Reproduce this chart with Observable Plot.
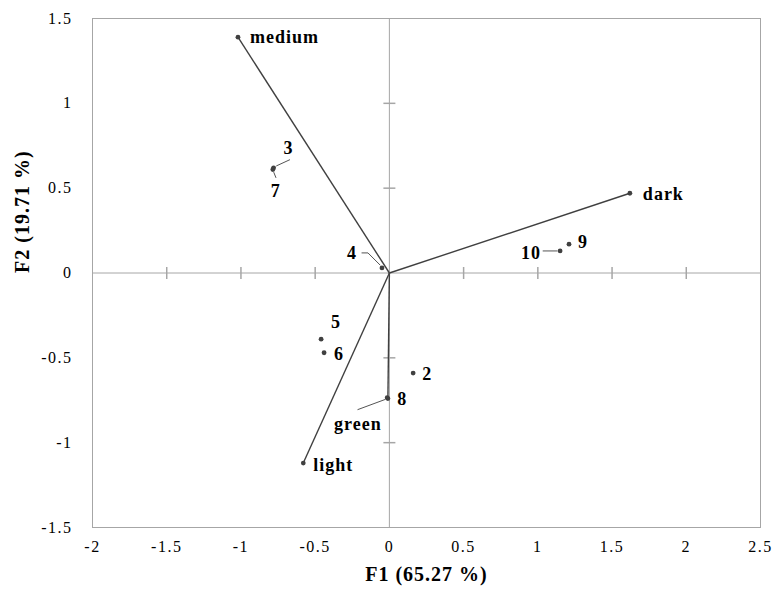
<!DOCTYPE html>
<html><head><meta charset="utf-8">
<script src="https://cdn.jsdelivr.net/npm/d3@7"></script>
<script src="https://cdn.jsdelivr.net/npm/@observablehq/plot@0.6"></script>
<style>
body{margin:0;background:#fff}
svg, svg text{font-family:"Liberation Serif","Times New Roman",Times,"DejaVu Serif",serif !important}
svg [aria-label^="x-axis"] text, svg [aria-label^="y-axis"] text{letter-spacing:1.5px}
svg [aria-label="text"] text{letter-spacing:1px}
</style>
</head><body><div id="chart"></div>
<script>
// ---- data ----
const variables = ["medium", "dark", "light", "green"];
const varF1 = [-1.02, 1.62, -0.58, -0.01];
const varF2 = [1.39, 0.47, -1.12, -0.74];
const observations = ["2", "3", "4", "5", "6", "7", "8", "9", "10"];
const obsF1 = [0.16, -0.78, -0.05, -0.46, -0.44, -0.785, -0.015, 1.21, 1.15];
const obsF2 = [-0.59, 0.62, 0.03, -0.39, -0.47, 0.61, -0.735, 0.17, 0.13];
const xTicks = [-2, -1.5, -1, -0.5, 0, 0.5, 1, 1.5, 2, 2.5];
const yTicks = [-1.5, -1, -0.5, 0, 0.5, 1, 1.5];
const xTitle = "F1 (65.27 %)";
const yTitle = "F2 (19.71 %)";

// ---- layout (pixels) ----
const W = 775, H = 595;
const M = {top: 18, right: 15, bottom: 68, left: 92};
const xDomain = [-2, 2.5], yDomain = [-1.5, 1.5];
const kx = (W - M.left - M.right) / (xDomain[1] - xDomain[0]);
const ky = (H - M.top - M.bottom) / (yDomain[1] - yDomain[0]);
const labelPos = {
  medium: {dx: 12, dy: 0, a: "start"},
  dark: {dx: 13, dy: 1, a: "start"},
  light: {dx: 10, dy: 2, a: "start"},
  green: {dx: -30, dy: 26, a: "middle"},
  "2": {dx: 9, dy: 1, a: "start"},
  "3": {dx: 15, dy: -20, a: "middle"},
  "4": {dx: -30, dy: -15, a: "middle"},
  "5": {dx: 10, dy: -17, a: "start"},
  "6": {dx: 10, dy: 1, a: "start"},
  "7": {dx: 3, dy: 22, a: "middle"},
  "8": {dx: 10, dy: 2, a: "start"},
  "9": {dx: 9, dy: -2, a: "start"},
  "10": {dx: -19, dy: 2, a: "end"}
};
// leader polylines, pixel offsets from the point
const leaders = {
  "3": [[3, -2], [16, -8]],
  "7": [[1, 3], [3, 8]],
  "4": [[-20, -15], [-14, -15], [-2, -3]],
  "10": [[-17, 0], [-3, 0]],
  green: [[-30, 11], [-3, 1]]
};

const vars = variables.map((n, i) => ({name: n, x: varF1[i], y: varF2[i]}));
const obs = observations.map((n, i) => ({name: n, x: obsF1[i], y: obsF2[i]}));
const all = [...vars, ...obs];
const leaderPts = [];
for (const p of all) {
  const L = leaders[p.name];
  if (!L) continue;
  for (const [ox, oy] of L) leaderPts.push({id: p.name, x: p.x + ox / kx, y: p.y - oy / ky});
}

const vTick = {draw(ctx) { ctx.moveTo(0, -6); ctx.lineTo(0, 6); }};
const hTick = {draw(ctx) { ctx.moveTo(-6, 0); ctx.lineTo(6, 0); }};
const fmt = d => String(d);
const gray = "#a6a6a6", dark = "#404040";
const serif = "'Liberation Serif', 'Times New Roman', Times, 'DejaVu Serif', serif";

const chart = Plot.plot({
  width: W, height: H,
  marginTop: M.top, marginRight: M.right, marginBottom: M.bottom, marginLeft: M.left,
  style: {fontFamily: serif, fontSize: "16px", color: "#000", background: "#fff"},
  x: {domain: xDomain, ticks: xTicks, tickFormat: fmt, tickSize: 0, tickPadding: 13, label: null},
  y: {domain: yDomain, ticks: yTicks, tickFormat: fmt, tickSize: 0, tickPadding: 20, label: null},
  marks: [
    Plot.frame({stroke: gray}),
    Plot.ruleX([0], {stroke: gray}),
    Plot.ruleY([0], {stroke: gray}),
    Plot.dot(xTicks.filter(d => d > xDomain[0] && d < xDomain[1] && d !== 0), {x: d => d, y: () => 0, symbol: vTick, stroke: gray, fill: "none"}),
    Plot.dot(yTicks.filter(d => d > yDomain[0] && d < yDomain[1] && d !== 0), {x: () => 0, y: d => d, symbol: hTick, stroke: gray, fill: "none"}),
    Plot.link(vars, {x1: () => 0, y1: () => 0, x2: "x", y2: "y", stroke: dark, strokeWidth: 1.4}),
    Plot.line(leaderPts, {x: "x", y: "y", z: "id", stroke: dark, strokeWidth: 0.9}),
    Plot.dot(all, {x: "x", y: "y", r: 2.4, fill: dark, stroke: "none"}),
    ...all.map(p => Plot.text([p], {
      x: "x", y: "y", text: "name",
      dx: labelPos[p.name].dx, dy: labelPos[p.name].dy,
      textAnchor: labelPos[p.name].a, fontWeight: "bold", fontSize: 18, fill: "#000", fontFamily: serif
    })),
    Plot.text([xTitle], {frameAnchor: "bottom", dy: 53, text: d => d, fontWeight: "bold", fontSize: 20, fill: "#000", fontFamily: serif}),
    Plot.text([yTitle], {frameAnchor: "left", dx: -70, rotate: -90, text: d => d, fontWeight: "bold", fontSize: 20, fill: "#000", fontFamily: serif})
  ]
});
document.getElementById("chart").appendChild(chart);
</script>
</body></html>
